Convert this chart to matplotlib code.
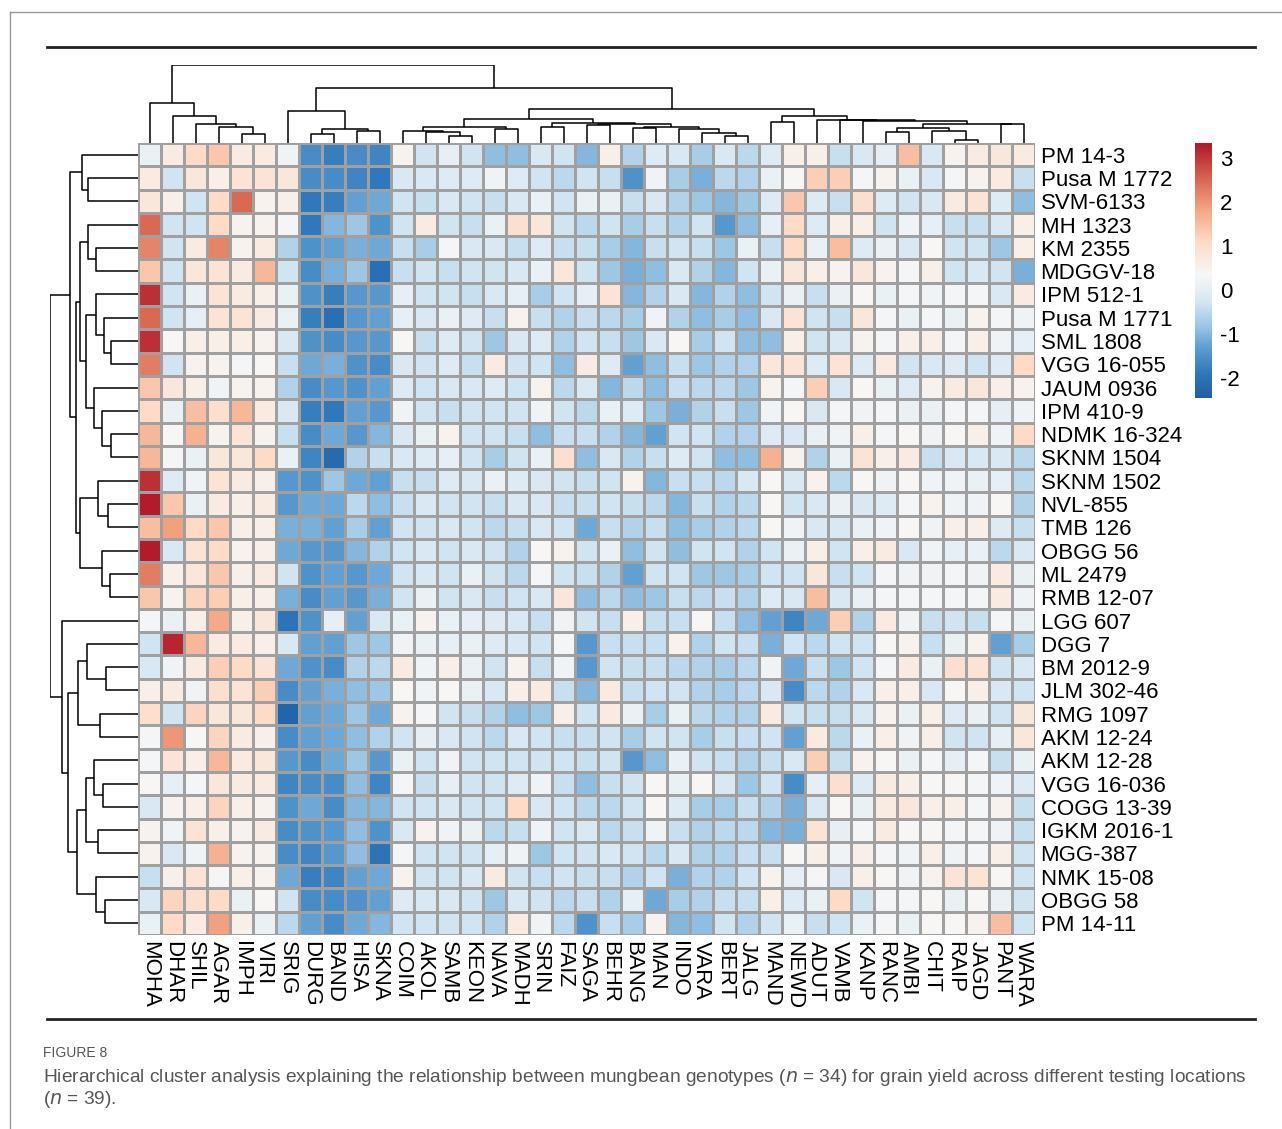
import numpy as np
import matplotlib
matplotlib.use("Agg")
import matplotlib.pyplot as plt
from matplotlib.colors import LinearSegmentedColormap, TwoSlopeNorm

plt.rcParams["font.family"] = ["Liberation Sans", "DejaVu Sans"]

rows = ["PM 14-3", "Pusa M 1772", "SVM-6133", "MH 1323", "KM 2355", "MDGGV-18",
        "IPM 512-1", "Pusa M 1771", "SML 1808", "VGG 16-055", "JAUM 0936",
        "IPM 410-9", "NDMK 16-324", "SKNM 1504", "SKNM 1502", "NVL-855",
        "TMB 126", "OBGG 56", "ML 2479", "RMB 12-07", "LGG 607", "DGG 7",
        "BM 2012-9", "JLM 302-46", "RMG 1097", "AKM 12-24", "AKM 12-28",
        "VGG 16-036", "COGG 13-39", "IGKM 2016-1", "MGG-387", "NMK 15-08",
        "OBGG 58", "PM 14-11"]
cols = ["MOHA", "DHAR", "SHIL", "AGAR", "IMPH", "VIRI", "SRIG", "DURG", "BAND",
        "HISA", "SKNA", "COIM", "AKOL", "SAMB", "KEON", "NAVA", "MADH", "SRIN",
        "FAIZ", "SAGA", "BEHR", "BANG", "MAN", "INDO", "VARA", "BERT", "JALG",
        "MAND", "NEWD", "ADUT", "VAMB", "KANP", "RANC", "AMBI", "CHIT", "RAIP",
        "JAGD", "PANT", "WARA"]

values = [
    [0.1, 0.7, 1.1, 1.4, 0.7, 0.7, 0.2, -1.6, -1.8, -1.6, -1.7, 0.5, -0.3, 0.0, -0.3, -0.9, -0.9, -0.2, -0.3, -1.0,
     0.6, -0.6, -0.1, -0.2, -0.7, -0.2, -0.5, -0.1, 0.6, 0.6, -0.4, -0.2, 0.0, 1.5, -0.2, 0.5, 0.7, 0.8, 0.7],
    [0.7, -0.3, 0.8, 0.6, 0.9, 0.9, 0.8, -1.6, -1.6, -1.7, -1.9, -0.2, -0.2, -0.1, -0.1, 0.2, -0.1, -0.3, -0.5, -0.3,
     -0.4, -1.5, 0.2, -0.7, -1.1, -0.5, -0.6, 0.1, 0.4, 1.3, 1.3, 0.3, 0.5, 0.1, -0.2, 0.3, 0.5, 0.7, -0.4],
    [0.8, 0.6, -0.3, 1.1, 2.5, 0.5, 0.6, -1.9, -1.8, -1.3, -1.2, -0.3, -0.4, -0.2, -0.3, -0.4, -0.2, 0.1, -0.3, 0.1,
     0.1, -0.4, -0.2, -0.6, -0.8, -1.0, -0.8, -0.1, 1.4, -0.1, -0.4, 1.0, -0.1, -0.3, -0.2, 0.7, 0.9, -0.1, -0.9],
    [2.5, -0.3, -0.3, 1.1, 0.5, 0.5, 0.3, -1.9, -1.0, -0.8, -1.5, -0.3, 0.7, -0.3, -0.4, 0.1, 1.0, 0.8, -0.3, -0.5,
     -0.3, -0.7, -0.4, -0.6, -0.3, -1.4, -0.9, 0.0, 1.1, -0.1, 0.6, 0.6, -0.3, 0.2, 0.0, -0.4, -0.4, -0.2, 0.6],
    [2.2, -0.3, 0.7, 2.2, 0.5, 0.7, -0.6, -1.5, -1.3, -1.1, -1.2, -0.4, -0.7, 0.3, -0.2, -0.2, -0.4, -0.1, -0.4, -0.4,
     -0.7, -1.0, -0.4, -0.3, -0.4, -0.8, 0.1, -0.4, 1.1, 0.1, 1.5, -0.1, 0.1, -0.2, 0.4, -0.3, -0.3, -0.8, 0.6],
    [1.4, -0.3, 0.8, 0.9, 0.7, 1.6, -0.3, -1.6, -1.1, -0.8, -2.1, -0.4, -0.3, -0.4, -0.3, -0.3, -0.2, 0.1, 0.8, -0.3,
     -0.8, -1.1, -0.9, -0.2, -0.6, -1.0, -0.3, 0.1, 0.8, 0.6, 0.5, 0.8, 0.5, 0.3, 0.6, -0.3, -0.2, -0.3, -1.1],
    [3.1, -0.3, 0.1, 0.9, 0.7, 0.6, 0.1, -1.5, -1.8, -1.4, -1.4, 0.0, -0.3, -0.3, -0.4, -0.2, 0.0, -0.7, -0.3, 0.0,
     0.9, -1.0, -0.6, -0.2, -1.0, -0.6, -0.9, -0.3, 0.1, -0.4, 0.1, 0.4, 0.1, 0.3, 0.2, 0.3, 0.3, -0.2, 0.7],
    [2.5, -0.3, 0.0, 0.9, 0.9, 0.7, 0.1, -1.8, -2.1, -1.4, -1.3, 0.0, -0.2, 0.1, -0.1, -0.4, 0.5, -0.4, -0.6, -0.4,
     -0.5, -0.7, 0.2, -0.6, -0.9, -0.7, -0.9, -0.2, 0.9, -0.3, -0.4, 0.8, 0.3, 0.1, 0.3, 0.1, 0.5, 0.3, 0.2],
    [3.1, 0.4, 0.6, 0.6, 0.6, 0.5, -0.2, -1.5, -1.6, -1.4, -1.4, 0.4, -0.4, -0.1, -0.3, -0.8, -0.2, -0.1, -0.6, -0.3,
     -0.4, -0.8, -0.2, 0.4, -0.7, -0.3, -0.9, -0.9, 0.6, -0.3, -0.2, 0.5, 0.3, 0.6, 0.6, 0.3, 0.6, 0.2, 0.0],
    [2.3, -0.3, 0.5, 0.5, 0.3, 0.4, -0.4, -1.2, -1.1, -1.5, -1.6, -0.2, -0.3, -0.1, -0.4, 0.7, -0.3, -0.3, -0.9, 0.7,
     -0.1, -1.3, -0.9, -0.4, -0.8, -0.6, -0.6, 0.8, 0.9, -0.1, 0.9, -0.1, 0.7, -0.3, -0.2, -0.1, -0.3, -0.1, 1.1],
    [1.4, 0.8, 0.6, 0.2, 0.5, 0.5, -0.6, -1.6, -1.4, -1.5, -1.3, -0.1, -0.3, -0.2, -0.2, -0.1, -0.3, 0.5, -0.5, -0.2,
     -1.0, -0.5, -0.9, -0.4, -0.5, -0.5, -0.8, 0.5, 0.3, 1.3, -0.2, 0.4, 0.1, -0.1, 0.5, 0.7, 0.8, 0.6, 0.5],
    [1.1, 0.1, 1.5, 1.0, 1.6, 0.7, -0.2, -1.8, -1.9, -1.3, -1.4, 0.2, -0.3, -0.4, -0.3, -0.3, -0.3, 0.2, -0.3, -0.5,
     0.1, -0.1, -0.8, -1.1, -0.6, -0.4, -0.8, 0.2, 0.4, -0.2, 0.3, 0.2, 0.3, 0.1, 0.1, 0.3, 0.3, 0.0, 0.2],
    [1.6, 0.4, 1.7, 0.5, 0.9, 0.5, -0.4, -1.6, -1.2, -1.4, -1.0, -0.2, 0.1, 0.5, -0.3, -0.3, -0.4, -0.9, -0.4, -0.4,
     -0.6, -1.0, -1.3, -0.3, -0.3, -0.6, -0.6, -0.1, -0.2, 0.1, 0.2, 0.6, 0.3, 0.4, 0.2, 0.4, 0.6, 0.2, 1.1],
    [1.6, 0.3, 0.1, 0.8, 0.8, 1.1, 0.1, -1.7, -2.2, -0.6, -0.4, -0.2, -0.1, 0.0, -0.3, -0.7, -0.3, 0.1, 1.0, -0.9,
     -0.2, -0.6, -0.4, -0.1, -0.3, -0.9, -0.9, 1.7, 0.5, -0.6, 0.1, 0.9, 0.6, 0.7, -0.4, -0.2, -0.2, -0.2, -0.5],
    [3.1, -0.1, 0.2, 0.9, 0.7, 0.6, -1.4, -1.5, -0.8, -1.2, -1.3, -0.4, -0.4, -0.1, -0.2, 0.1, -0.1, -0.2, -0.3, -0.4,
     -0.3, 0.5, -1.0, -0.4, -0.4, -0.5, -0.2, 0.4, -0.2, 0.5, -0.5, 0.4, 0.2, 0.4, 0.2, 0.2, 0.1, 0.0, -0.5],
    [3.3, 1.4, 0.1, 0.7, 0.6, 0.7, -1.4, -1.2, -1.2, -0.5, -0.9, -0.4, -0.2, -0.3, -0.3, -0.4, -0.2, -0.2, -0.4, -0.4,
     -0.3, -0.4, -0.5, -1.0, -0.4, -0.6, -0.5, 0.4, -0.3, -0.2, 0.1, -0.2, -0.1, 0.3, 0.5, 0.2, 0.2, 0.4, -0.6],
    [1.5, 1.9, 1.1, 1.4, 0.6, 0.6, -1.1, -1.1, -1.3, -0.7, -1.3, -0.3, -0.3, -0.2, -0.3, -0.5, -0.4, -0.2, -0.3, -1.2,
     -0.4, -0.6, -0.4, -0.9, -0.7, -0.6, -0.5, 0.4, 0.2, -0.2, -0.2, 0.1, 0.2, 0.4, 0.2, 0.6, 0.6, -0.1, -0.4],
    [3.3, -0.2, 0.9, 1.1, 0.5, 0.6, -1.2, -1.4, -1.4, -1.0, -0.6, -0.3, -0.2, -0.3, -0.2, -0.3, -0.6, 0.4, 0.5, -0.3,
     0.1, -0.9, -0.3, -0.9, -0.3, -0.3, -0.6, -0.3, 0.1, 0.6, -0.3, 0.6, 0.7, -0.2, 0.2, 0.0, 0.1, -0.5, -0.2],
    [2.3, 0.6, 0.8, 1.4, 0.6, 0.7, -0.3, -1.5, -1.3, -1.4, -1.2, -0.3, -0.2, -0.3, 0.1, -0.3, -0.5, 0.3, -0.3, -0.4,
     -0.6, -1.3, -0.3, -0.3, -0.8, -0.8, -0.7, -0.3, -0.3, 0.8, -0.4, -0.3, 0.3, 0.2, 0.2, 0.3, 0.2, 0.7, 0.1],
    [1.4, 0.5, 1.2, 1.3, 0.6, 0.6, -1.1, -1.6, -1.3, -1.4, -1.1, -0.3, 0.1, -0.3, -0.2, -0.4, -0.3, -0.2, 0.8, -0.9,
     -0.5, -0.9, -0.8, -0.4, -0.5, -0.4, -0.6, -0.1, -0.2, 1.5, -0.2, 0.1, 0.3, 0.3, 0.3, 0.3, 0.3, 0.7, 0.2],
    [0.3, 0.1, 0.6, 1.8, 0.6, 0.8, -2.0, -1.5, 0.0, -1.3, -0.2, 0.1, 0.5, 0.1, 0.0, -0.1, -0.2, -0.4, 0.2, -0.3,
     -0.4, 0.6, -0.4, -0.4, 0.4, -0.4, -0.9, -1.3, -1.7, -1.2, 1.3, -0.6, 0.7, 0.2, -0.4, -0.3, -0.4, 0.3, 0.1],
    [-0.3, 3.2, 1.6, 0.7, 0.7, 0.6, -0.2, -1.3, -1.3, -0.8, -0.8, 0.2, 0.1, 0.0, 0.1, -0.1, -0.2, -0.3, 0.3, -1.4,
     -0.4, -0.4, -0.4, 0.5, -0.6, -0.3, -0.4, -1.1, -0.3, -0.5, -0.3, -0.3, 0.4, 0.5, -0.4, 0.1, 0.5, -1.3, -0.7],
    [-0.2, 0.2, 0.7, 1.3, 1.1, 0.9, -1.2, -1.5, -1.6, -0.6, -0.5, 0.7, 0.2, 0.6, 0.1, -0.3, 0.5, -0.4, 0.2, -1.4,
     -0.3, -0.4, -0.4, -0.5, -0.6, -0.7, -0.5, 0.2, -1.2, -0.4, -0.8, -0.3, 0.3, 0.7, 0.1, 1.0, 0.9, -0.3, -0.2],
    [0.6, 0.7, 0.2, 1.0, 0.9, 1.3, -1.6, -1.3, -1.1, -0.9, -0.8, 0.4, 0.2, 0.4, 0.1, -0.2, 0.6, 0.7, -0.4, -1.0,
     0.7, -0.4, -0.3, -0.3, -0.6, -0.7, -0.5, -0.2, -1.6, -0.5, -0.6, -0.2, 0.6, 0.6, -0.2, 0.4, 0.6, -0.2, -0.3],
    [1.0, -0.3, 1.2, 0.8, 0.8, 1.1, -2.3, -1.3, -1.2, -0.8, -1.2, 0.5, 0.3, -0.3, -0.4, -0.6, -0.9, -0.8, 0.6, -0.3,
     0.7, 0.1, -0.7, 0.1, -0.5, -0.6, -0.6, 0.7, -0.3, -0.4, -0.4, -0.2, 0.5, 0.1, 0.6, -0.1, 0.1, -0.3, 0.8],
    [0.3, 2.0, 0.4, 1.2, 0.7, 0.6, -1.6, -1.3, -1.2, -0.9, -0.6, -0.3, 0.0, -0.2, -0.3, -0.5, -0.2, -0.3, -0.4, -0.4,
     -0.3, -0.7, -0.3, -0.3, -0.7, -0.4, -0.4, -0.3, -1.3, 0.7, -0.5, 0.1, 0.6, 0.2, 0.6, -0.3, -0.3, 0.0, 0.8],
    [0.3, 0.9, 0.6, 1.6, 0.7, 0.8, -1.4, -1.6, -1.2, -0.8, -1.4, 0.1, -0.3, 0.2, -0.3, -0.3, -0.3, -0.3, -0.3, -0.4,
     -0.3, -1.4, -0.9, 0.1, -0.3, -0.4, -0.6, -0.4, -0.2, 1.3, -0.4, 0.5, 0.4, 0.1, 0.3, 0.0, 0.3, -0.4, 0.1],
    [0.4, 0.0, 0.3, 0.8, 0.7, 0.7, -1.7, -1.6, -1.6, -0.9, -1.7, 0.3, -0.4, 0.0, -0.3, -0.3, -0.1, 0.2, -0.4, -0.9,
     -0.4, -0.3, 0.4, 0.1, 0.4, -0.2, -0.8, -0.3, -1.6, 0.0, 1.0, -0.1, 0.7, 0.6, 0.4, 0.4, 0.3, 0.2, -0.1],
    [-0.2, 0.5, 0.6, 1.2, 0.6, 0.5, -1.5, -1.2, -1.6, -1.0, -1.0, -0.3, -0.3, -0.2, -0.3, -0.3, 1.1, -0.2, -0.3, -0.5,
     -0.5, -0.3, 0.4, -0.1, -0.7, -0.7, -0.4, -0.6, -1.1, -0.2, 0.4, 0.1, 0.7, 0.8, 0.6, 0.6, 0.3, 0.5, -0.4],
    [0.5, 0.2, 0.9, 0.6, 0.5, 0.7, -1.6, -1.5, -1.4, -0.9, -1.5, -0.2, 0.5, 0.2, 0.1, -0.5, -0.4, 0.2, -0.3, -0.2,
     -0.5, -0.4, 0.2, -0.4, -0.6, -0.5, -0.5, -1.0, -1.1, 0.9, 0.0, 0.3, 0.7, 0.4, 0.4, 0.3, 0.3, 0.2, -0.4],
    [0.5, -0.2, 0.2, 1.7, 0.5, 0.5, -1.6, -1.7, -1.4, -0.9, -2.0, 0.3, -0.3, -0.3, -0.3, 0.0, 0.2, -0.8, -0.3, -0.3,
     -0.2, -0.3, -0.5, -0.2, -0.6, -0.6, -0.4, -0.4, 0.4, 0.6, 0.2, 0.6, 0.3, 0.2, 0.6, 0.2, 0.3, 0.6, -0.3],
    [-0.4, 0.6, 0.9, 0.3, 0.6, 0.5, -1.2, -1.8, -1.7, -1.3, -1.2, 0.5, -0.3, -0.3, -0.2, 0.7, -0.3, -0.4, -0.3, -0.4,
     -0.4, -0.6, -0.3, -1.1, -0.6, -0.6, -0.3, 0.5, 0.0, 0.3, -0.2, 0.6, 0.4, 0.2, 0.5, 0.9, 0.9, 0.4, -0.3],
    [-0.2, 1.2, 1.0, 1.1, 0.1, 0.4, -0.3, -1.6, -1.6, -1.5, -1.3, -0.1, -0.2, -0.2, -0.3, -0.8, -0.2, -0.3, -0.5, -0.4,
     -0.6, 0.0, -1.2, -0.7, -0.6, -0.4, -0.4, 0.6, -0.1, 0.1, 1.1, -0.3, 0.3, 0.3, 0.4, 0.1, 0.4, 0.1, -0.3],
    [0.1, 1.1, 0.7, 1.9, 0.6, 0.1, -0.5, -1.3, -1.6, -1.2, -1.0, -0.3, -0.3, -0.3, -0.3, -0.6, 0.7, 0.2, -0.5, -1.5,
     -0.4, -0.7, 0.5, -1.0, -0.9, -0.3, -0.6, -0.3, 0.1, -0.4, -0.3, 0.1, 0.3, 0.1, 0.4, 0.4, 0.5, 1.5, -0.3],
]

# column dendrogram (heights in arbitrary units)
col_tree = (
    ("MOHA", ("DHAR", ("SHIL", ("AGAR", ("IMPH", "VIRI", 1.2), 2.1), 2.5), 3.4), 5.1),
    (("SRIG", (("DURG", "BAND", 1.2), ("HISA", "SKNA", 1.6), 1.8), 4.1),
     (((("COIM", ("AKOL", ("SAMB", "KEON", 0.9), 1.4), 1.6), ("NAVA", "MADH", 1.75), 2.05),
       (("SRIN", "FAIZ", 2.0),
        (("SAGA", "BEHR", 2.3),
         (("BANG", "MAN", 1.9), ("INDO", ("VARA", ("BERT", "JALG", 0.85), 1.3), 1.75), 2.1), 2.4), 2.6), 3.1),
      (("MAND", "NEWD", 2.7),
       ("ADUT", ("VAMB", ("KANP", ((("RANC", "AMBI", 1.4), ("CHIT", ("RAIP", "JAGD", 0.4), 1.5), 1.9),
                                   ("PANT", "WARA", 2.4), 2.5), 2.8), 2.9), 3.0), 3.5), 4.3), 7.0),
    10.0)

# row dendrogram
row_tree = (
    (("PM 14-3", ("Pusa M 1772", "SVM-6133", 49.6), 55.8),
     ((("MH 1323", ("KM 2355", "MDGGV-18", 42), 50),
       (("IPM 512-1", ("Pusa M 1771", ("SML 1808", "VGG 16-055", 27), 34), 42),
        ("JAUM 0936", ("IPM 410-9", ("NDMK 16-324", "SKNM 1504", 27), 36), 44), 52), 58),
      (("SKNM 1502", ("NVL-855", "TMB 126", 30), 40),
       ("OBGG 56", ("ML 2479", "RMB 12-07", 28), 36), 58.5), 62), 68.5),
    ("LGG 607",
     ((("DGG 7", ("BM 2012-9", "JLM 302-46", 32), 51), ("RMG 1097", "AKM 12-24", 38), 60),
      ((("AKM 12-28", ("VGG 16-036", "COGG 13-39", 35), 44), ("IGKM 2016-1", "MGG-387", 40), 52),
       ("NMK 15-08", ("OBGG 58", "PM 14-11", 33), 42), 61), 70), 76),
    88)


def draw_tree(ax, node, order, vertical):
    if isinstance(node, str):
        return order.index(node) + 0.5, 0.0
    left, right, h = node
    lx, lh = draw_tree(ax, left, order, vertical)
    rx, rh = draw_tree(ax, right, order, vertical)
    xs = [lx, lx, rx, rx]
    hs = [lh, h, h, rh]
    if vertical:
        ax.plot(xs, hs, color="black", lw=1.1, solid_capstyle="butt")
    else:
        ax.plot(hs, xs, color="black", lw=1.1, solid_capstyle="butt")
    return (lx + rx) / 2, h


W, H = 1282, 1129
fig = plt.figure(figsize=(W / 100, H / 100), dpi=100)


def box(x0, y0, x1, y1):
    return [x0 / W, 1 - y1 / H, (x1 - x0) / W, (y1 - y0) / H]


cmap = LinearSegmentedColormap.from_list(
    "rb", ["#1f5fa6", "#2f78bb", "#5a9bd0", "#9cc6e4", "#d4e6f2", "#f7f7f7",
           "#fddbc7", "#f4a582", "#d6604d", "#b2182b"])
vmin, vmax = -2.45, 3.35
norm = TwoSlopeNorm(vcenter=0.0, vmin=vmin, vmax=vmax)

ax = fig.add_axes(box(138, 143, 1035, 935))
data = np.array(values)
ax.pcolormesh(data, cmap=cmap, norm=norm, edgecolors="#a0a0a0", linewidth=1)
ax.set_xlim(0, len(cols))
ax.set_ylim(len(rows), 0)
ax.set_xticks(np.arange(len(cols)) + 0.5)
ax.set_xticklabels(cols, rotation=-90, fontsize=16)
ax.yaxis.tick_right()
ax.set_yticks(np.arange(len(rows)) + 0.5)
ax.set_yticklabels(rows, fontsize=16)
ax.tick_params(length=0, pad=4)
for s in ax.spines.values():
    s.set_visible(False)

axc = fig.add_axes(box(138, 65, 1035, 143))
draw_tree(axc, col_tree, cols, True)
axc.set_xlim(0, len(cols))
axc.set_ylim(0, 10)
axc.axis("off")

axr = fig.add_axes(box(50, 143, 138, 935))
draw_tree(axr, row_tree, rows, False)
axr.set_ylim(len(rows), 0)
axr.set_xlim(88, 0)
axr.axis("off")

axb = fig.add_axes(box(1195, 143, 1212, 398))
grad = np.linspace(vmin, vmax, 300).reshape(-1, 1)
axb.imshow(grad, aspect="auto", cmap=cmap, norm=norm, origin="lower",
           extent=[0, 1, vmin, vmax])
axb.yaxis.tick_right()
axb.set_yticks([-2, -1, 0, 1, 2, 3])
axb.set_yticklabels(["-2", "-1", "0", "1", "2", "3"], fontsize=16)
axb.set_xticks([])
axb.tick_params(length=0, pad=6)
for s in axb.spines.values():
    s.set_visible(False)

# figure frame and rules
fig.add_artist(plt.Line2D([10 / W, 10 / W], [0, 1 - 12 / H], color="#999999", lw=1))
fig.add_artist(plt.Line2D([10 / W, 1], [1 - 12 / H, 1 - 12 / H], color="#999999", lw=1))
fig.add_artist(plt.Line2D([47 / W, 1255 / W], [1 - 47 / H, 1 - 47 / H], color="#222222", lw=2))
fig.add_artist(plt.Line2D([47 / W, 1255 / W], [1 - 1019 / H, 1 - 1019 / H], color="#222222", lw=2))

fig.text(43 / W, 1 - 1053 / H, "FIGURE 8", fontsize=10, color="#555555", va="center")
fig.text(43 / W, 1 - 1077 / H,
         "Hierarchical cluster analysis explaining the relationship between mungbean genotypes ($n$ = 34) "
         "for grain yield across different testing locations",
         fontsize=13.8, color="#555555", va="center")
fig.text(43 / W, 1 - 1100 / H, "($n$ = 39).", fontsize=13.8, color="#555555", va="center")

fig.savefig("out.png", dpi=100)
